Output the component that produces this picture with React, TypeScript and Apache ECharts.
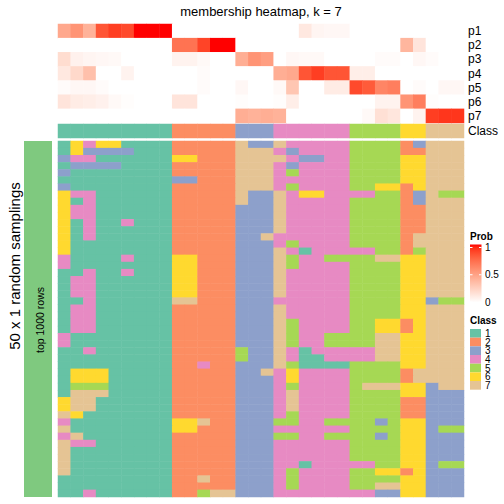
import React, { useEffect, useRef } from "react";
import * as echarts from "echarts";

const TITLE = "membership heatmap, k = 7";
const ROW_TITLE = "50 x 1 random samplings";
const SUB_TITLE = "top 1000 rows";
const PROB_ROWS = ["p1", "p2", "p3", "p4", "p5", "p6", "p7"];
const CLASS_IDS = [1, 2, 3, 4, 5, 6, 7];
const CLASS_COLORS = ["#66C2A5", "#FC8D62", "#8DA0CB", "#E78AC3", "#A6D854", "#FFD92F", "#E5C494"];
const PROB_TICKS = [0, 0.5, 1];

// class of each column (32 columns)
const COLUMN_CLASS = [1, 1, 1, 1, 1, 1, 1, 1, 1, 2, 2, 2, 2, 2, 3, 3, 3, 4, 4, 4, 4, 4, 4, 5, 5, 5, 5, 6, 6, 7, 7, 7];

// membership probabilities per column
const P1 = [0.45, 0.55, 0.4, 0.82, 0.9, 0.86, 1, 1, 1, 0, 0, 0, 0, 0, 0, 0, 0, 0, 0, 0.12, 0.05, 0.04, 0.04, 0, 0, 0, 0, 0, 0, 0, 0, 0];
const P2 = [0, 0, 0, 0, 0, 0, 0, 0, 0, 0.7, 0.7, 0.88, 1, 1, 0, 0, 0, 0, 0, 0, 0, 0, 0, 0, 0, 0, 0, 0.38, 0.14, 0, 0, 0];
const P3 = [0.18, 0.07, 0.05, 0.04, 0.03, 0, 0, 0, 0, 0.06, 0.06, 0.03, 0, 0, 0.42, 0.55, 0.5, 0, 0.04, 0.03, 0.03, 0, 0, 0, 0, 0.02, 0.02, 0, 0.04, 0.02, 0, 0];
const P4 = [0.12, 0.2, 0.33, 0, 0, 0.06, 0, 0, 0, 0, 0, 0.02, 0, 0, 0, 0, 0, 0.42, 0.45, 0.82, 0.9, 0.82, 0.82, 0.09, 0.09, 0, 0, 0, 0, 0, 0, 0];
const P5 = [0.02, 0.04, 0.04, 0.02, 0, 0, 0, 0, 0, 0, 0, 0.02, 0, 0, 0.04, 0, 0, 0.03, 0.3, 0, 0, 0.1, 0.1, 0.86, 0.8, 0.62, 0.65, 0, 0.02, 0, 0.04, 0.04];
const P6 = [0.14, 0.1, 0.09, 0.07, 0.03, 0.01, 0, 0, 0, 0.14, 0.14, 0, 0, 0, 0.01, 0, 0, 0.01, 0.09, 0, 0, 0, 0, 0, 0, 0.06, 0.06, 0.55, 0.65, 0.01, 0, 0];
const P7 = [0, 0, 0, 0, 0, 0, 0, 0, 0, 0, 0, 0, 0, 0, 0.42, 0.4, 0.42, 0.4, 0, 0, 0, 0, 0, 0, 0.03, 0.16, 0.13, 0, 0.06, 0.9, 0.92, 0.92];
const PROBS = [P1, P2, P3, P4, P5, P6, P7];

// class assigned in each of the 50 samplings (one character per column)
const SAMPLINGS = [
  "16466111122222733744444555523777",
  "16333311122222777434444555522777",
  "34411111166222777743344555566777",
  "13333111122222777434444555566777",
  "31111111122222777454444555566777",
  "11111111133222777444444555566777",
  "31111111122222777454444556626777",
  "64411111122222733746644445523755",
  "61411111122222733744444555523777",
  "64411111122222333744444555522777",
  "64411111122222333744444555522777",
  "61411411122222333744444555522777",
  "61411111122222333744444555522777",
  "61411111122222337444444555527777",
  "61111111122222333454444555527777",
  "61111111122222333741444445525777",
  "41111411166222333754455557766777",
  "41111111166222333754444555566777",
  "11411411166222333744444555566777",
  "14411111166222333744444555566777",
  "14411111166222333744444555566777",
  "14411111166222333744444555566777",
  "11411111177222333444444555566355",
  "14411111122222333744444555566777",
  "14411111122222333744444555566777",
  "14411111122222333754444556626777",
  "14411111122222333754444556626777",
  "41111111122222333754455557766777",
  "41111111122222333754455557766777",
  "11411111122222533741444447766777",
  "11111111122222533741144447766777",
  "11111111122422333751111555566777",
  "16661111122222337464444555527777",
  "16661111122222333464444555527777",
  "15551111122222333454444577766377",
  "17771111122222333474444555566333",
  "67711111122222333474444555522333",
  "67711111122222333474444555522333",
  "76111111122222333454444555522333",
  "41111111166722333554455553566333",
  "71111111166222333444444555566355",
  "47111111122222333554455553566333",
  "74411111122222333444444555566333",
  "71111111122222333444444555566333",
  "71111111122222333444444555566333",
  "71111111122222333441444445566355",
  "71111111122222333454444556626333",
  "11111111122722333454444555566333",
  "11111111122222333454444557766333",
  "11411111122577333444444443366333",
];

const FONT = "'Liberation Sans', Arial, Helvetica, sans-serif";

// LAB interpolation white -> red (like colorRamp2)
function toLin(c: number) {
  c /= 255;
  return c <= 0.04045 ? c / 12.92 : Math.pow((c + 0.055) / 1.055, 2.4);
}
function fromLin(c: number) {
  c = c <= 0.0031308 ? 12.92 * c : 1.055 * Math.pow(c, 1 / 2.4) - 0.055;
  return Math.round(Math.max(0, Math.min(1, c)) * 255);
}
const XN = 0.95047, YN = 1, ZN = 1.08883;
function rgbToLab(rgb: number[]) {
  const [R, G, B] = rgb.map(toLin);
  const X = (0.4124 * R + 0.3576 * G + 0.1805 * B) / XN;
  const Y = (0.2126 * R + 0.7152 * G + 0.0722 * B) / YN;
  const Z = (0.0193 * R + 0.1192 * G + 0.9505 * B) / ZN;
  const f = (t: number) => (t > 0.008856 ? Math.cbrt(t) : 7.787 * t + 16 / 116);
  const fx = f(X), fy = f(Y), fz = f(Z);
  return [116 * fy - 16, 500 * (fx - fy), 200 * (fy - fz)];
}
function labToHex(lab: number[]) {
  const [L, a, b] = lab;
  const fy = (L + 16) / 116;
  const fx = fy + a / 500;
  const fz = fy - b / 200;
  const inv = (t: number) => (t * t * t > 0.008856 ? t * t * t : (t - 16 / 116) / 7.787);
  const X = XN * inv(fx), Y = YN * inv(fy), Z = ZN * inv(fz);
  const R = 3.2406 * X - 1.5372 * Y - 0.4986 * Z;
  const G = -0.9689 * X + 1.8758 * Y + 0.0415 * Z;
  const B = 0.0557 * X - 0.204 * Y + 1.057 * Z;
  const h = (v: number) => fromLin(v).toString(16).padStart(2, "0");
  return "#" + h(R) + h(G) + h(B);
}
const LAB_WHITE = rgbToLab([255, 255, 255]);
const LAB_RED = rgbToLab([255, 0, 0]);
function probColor(t: number) {
  return labToHex(LAB_WHITE.map((w, i) => w + (LAB_RED[i] - w) * t));
}
const STEPS = 20;
const PROB_STOPS = Array.from({ length: STEPS + 1 }, (_, i) => probColor(i / STEPS));

// layout
const HM_LEFT = 58;
const HM_WIDTH = 406;
const TOP_P = 24;
const H_P = 99;
const TOP_C = 124;
const H_C = 14;
const TOP_M = 141;
const H_M = 356;

export default function App() {
  const ref = useRef<HTMLDivElement>(null);

  useEffect(() => {
    if (!ref.current) return;
    const chart = echarts.init(ref.current, undefined, { renderer: "svg" });
    const nCols = COLUMN_CLASS.length;
    const colIds = COLUMN_CLASS.map((_, i) => "c" + (i + 1));
    const rowIds = SAMPLINGS.map((_, i) => "r" + (i + 1));

    const probData: number[][] = [];
    PROBS.forEach((arr, r) => arr.forEach((v, c) => probData.push([c, r, v])));
    const classData = COLUMN_CLASS.map((c, i) => [i, 0, c]);
    const sampData: number[][] = [];
    SAMPLINGS.forEach((s, r) => {
      for (let c = 0; c < nCols; c++) sampData.push([c, r, Number(s[c])]);
    });

    const hiddenX = (gi: number) => ({
      type: "category",
      gridIndex: gi,
      data: colIds,
      show: false,
    });
    const labelY = {
      show: true,
      position: "right",
      inverse: true,
      axisLine: { show: false },
      axisTick: { show: false },
      splitLine: { show: false },
      axisLabel: { interval: 0, fontSize: 12, color: "#000", margin: 4, fontFamily: FONT },
    };

    chart.setOption({
      animation: false,
      grid: [
        { left: HM_LEFT, top: TOP_P, width: HM_WIDTH, height: H_P },
        { left: HM_LEFT, top: TOP_C, width: HM_WIDTH, height: H_C },
        { left: HM_LEFT, top: TOP_M, width: HM_WIDTH, height: H_M },
      ],
      xAxis: [hiddenX(0), hiddenX(1), hiddenX(2)],
      yAxis: [
        { type: "category", gridIndex: 0, data: PROB_ROWS, ...labelY },
        { type: "category", gridIndex: 1, data: ["Class"], ...labelY },
        { type: "category", gridIndex: 2, data: rowIds, inverse: true, show: false },
      ],
      visualMap: [
        {
          type: "continuous",
          show: false,
          seriesIndex: 0,
          dimension: 2,
          min: 0,
          max: 1,
          inRange: { color: PROB_STOPS },
        },
        {
          type: "piecewise",
          show: false,
          seriesIndex: [1, 2],
          dimension: 2,
          pieces: CLASS_IDS.map((c, i) => ({ value: c, color: CLASS_COLORS[i] })),
        },
      ],
      series: [
        { type: "heatmap", xAxisIndex: 0, yAxisIndex: 0, data: probData, itemStyle: { borderWidth: 0 } },
        { type: "heatmap", xAxisIndex: 1, yAxisIndex: 1, data: classData, itemStyle: { borderWidth: 0 } },
        { type: "heatmap", xAxisIndex: 2, yAxisIndex: 2, data: sampData, itemStyle: { borderWidth: 0 } },
      ],
    });

    // white separator line between columns 26 and 27
    const xa = chart.convertToPixel({ xAxisIndex: 2 }, colIds[25]) as number;
    const xb = chart.convertToPixel({ xAxisIndex: 2 }, colIds[26]) as number;
    const sepX = (xa + xb) / 2;

    const barTop = 244.5;
    const barH = 58;
    const tickY = (v: number) => 247.5 + (1 - v) * 54.5;
    const gradStops = PROB_STOPS.map((c, i) => ({ offset: 1 - i / STEPS, color: c })).reverse();

    const graphics: any[] = [
      {
        type: "text",
        x: HM_LEFT + HM_WIDTH / 2,
        y: 11,
        style: { text: TITLE, fontSize: 13, fontFamily: FONT, fill: "#000", align: "center", verticalAlign: "middle" },
      },
      {
        type: "line",
        shape: { x1: sepX, y1: TOP_P, x2: sepX, y2: TOP_M + H_M },
        style: { stroke: "#fff", lineWidth: 1.5 },
      },
      { type: "rect", shape: { x: 24, y: TOP_M, width: 28, height: H_M }, style: { fill: "#7FC97F" } },
      {
        type: "text",
        x: 14,
        y: 266,
        rotation: Math.PI / 2,
        style: { text: ROW_TITLE, fontSize: 15, fontFamily: FONT, fill: "#000", align: "center", verticalAlign: "middle" },
      },
      {
        type: "text",
        x: 39.5,
        y: 320,
        rotation: Math.PI / 2,
        style: { text: SUB_TITLE, fontSize: 10.5, fontFamily: FONT, fill: "#000", align: "center", verticalAlign: "middle" },
      },
      {
        type: "text",
        x: 470,
        y: 236.5,
        style: { text: "Prob", fontSize: 10, fontWeight: "bold", fontFamily: FONT, fill: "#000", align: "left", verticalAlign: "middle" },
      },
      {
        type: "rect",
        shape: { x: 470, y: barTop, width: 11.5, height: barH },
        style: { fill: new echarts.graphic.LinearGradient(0, 0, 0, 1, gradStops) },
      },
      {
        type: "text",
        x: 470,
        y: 320,
        style: { text: "Class", fontSize: 10, fontWeight: "bold", fontFamily: FONT, fill: "#000", align: "left", verticalAlign: "middle" },
      },
    ];
    PROB_TICKS.forEach((v) => {
      const y = tickY(v);
      graphics.push(
        { type: "line", shape: { x1: 470, y1: y, x2: 472.5, y2: y }, style: { stroke: "#fff", lineWidth: 1 } },
        { type: "line", shape: { x1: 479, y1: y, x2: 481.5, y2: y }, style: { stroke: "#fff", lineWidth: 1 } },
        {
          type: "text",
          x: 485,
          y,
          style: { text: String(v), fontSize: 10, fontFamily: FONT, fill: "#000", align: "left", verticalAlign: "middle" },
        }
      );
    });
    const boxH = 8.67;
    CLASS_IDS.forEach((c, i) => {
      const y = 329 + i * boxH;
      graphics.push(
        { type: "rect", shape: { x: 470, y, width: 11, height: boxH }, style: { fill: CLASS_COLORS[i] } },
        {
          type: "text",
          x: 485,
          y: y + boxH / 2,
          style: {
            text: String(c),
            fontSize: 10,
            lineHeight: 8,
            fontFamily: FONT,
            fill: "#000",
            align: "left",
            verticalAlign: "middle",
          },
        }
      );
    });

    chart.setOption({ graphic: graphics });

    return () => chart.dispose();
  }, []);

  return <div ref={ref} style={{ position: "fixed", left: 0, top: 0, width: 504, height: 504, background: "#fff" }} />;
}
